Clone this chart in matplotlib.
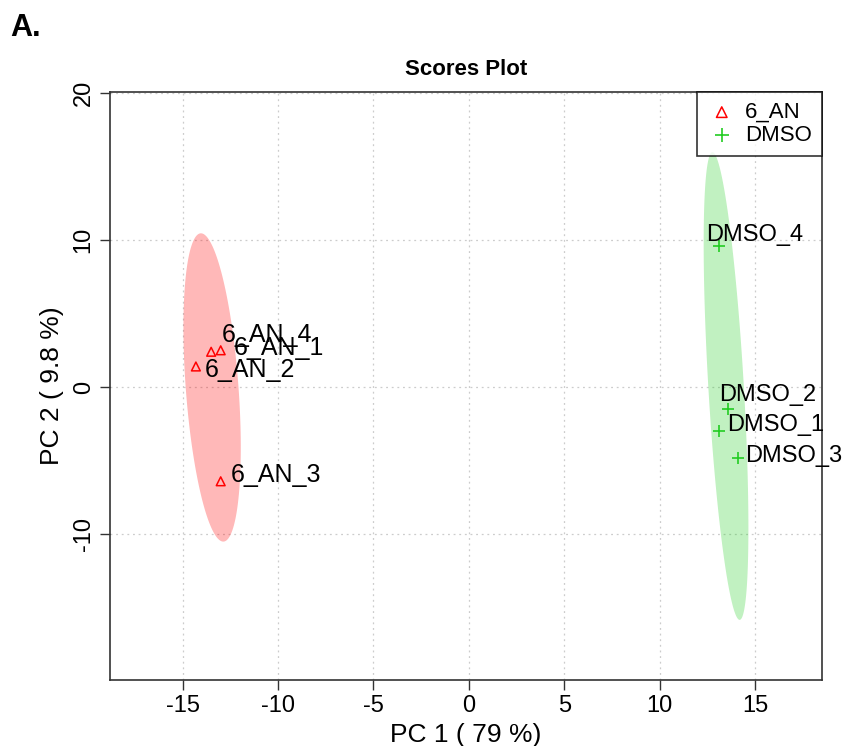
import matplotlib
matplotlib.use("Agg")
import matplotlib.pyplot as plt
import numpy as np

plt.rcParams['font.family'] = ['Liberation Sans', 'DejaVu Sans']

# scores
groups = ["6_AN", "DMSO"]
an_names = ["6_AN_1", "6_AN_2", "6_AN_3", "6_AN_4"]
an_pc1 = [-13.0, -14.3, -13.0, -13.5]
an_pc2 = [2.5, 1.4, -6.4, 2.4]
dmso_names = ["DMSO_1", "DMSO_2", "DMSO_3", "DMSO_4"]
dmso_pc1 = [13.1, 13.6, 14.1, 13.1]
dmso_pc2 = [-3.0, -1.5, -4.8, 9.6]

xticks = [-15, -10, -5, 0, 5, 10, 15]
yticks = [-10, 0, 10, 20]

# label offsets (pixels) from each point
an_off = [(13, 2), (9, -4), (10, 6), (11, 17)]
dmso_off = [(8, 6), (-9, 14), (7, 2), (-13, 11)]


def conf_ellipse(x, y, level=0.95, n=200):
    x = np.asarray(x); y = np.asarray(y)
    cov = np.cov(x, y)
    t = np.sqrt(-2 * np.log(1 - level))
    vals, vecs = np.linalg.eigh(cov)
    a = np.linspace(0, 2 * np.pi, n)
    circ = np.vstack([np.cos(a), np.sin(a)])
    pts = vecs @ (np.sqrt(vals)[:, None] * circ) * t
    return x.mean() + pts[0], y.mean() + pts[1]


fig = plt.figure(figsize=(8.5, 7.46), dpi=100)
ax = fig.add_axes([0.1294, 0.0885, 0.8376, 0.7882])

ex, ey = conf_ellipse(an_pc1, an_pc2)
ax.fill(ex, ey, color=(1.0, 0.0, 0.0), alpha=0.28, lw=0, zorder=1)
ex, ey = conf_ellipse(dmso_pc1, dmso_pc2)
ax.fill(ex, ey, color=(0.1, 0.8, 0.1), alpha=0.27, lw=0, zorder=1)

for v in xticks:
    ax.axvline(v, color='#cccccc', ls=(0, (1.5, 3)), lw=0.9, zorder=0)
for v in yticks:
    ax.axhline(v, color='#cccccc', ls=(0, (1.5, 3)), lw=0.9, zorder=0)

ax.scatter(an_pc1, an_pc2, marker='^', facecolors='none', edgecolors='#ff0000',
           s=40, linewidths=1.1, zorder=3, label=groups[0])
ax.scatter(dmso_pc1, dmso_pc2, marker='+', color='#22cc22', s=75,
           linewidths=1.2, zorder=3, label=groups[1])

for nm, x, y, (dx, dy) in zip(an_names, an_pc1, an_pc2, an_off):
    ax.annotate(nm, (x, y), xytext=(dx, dy), textcoords='offset pixels',
                ha='left', va='center', fontsize=18, color='black', zorder=4)
for nm, x, y, (dx, dy) in zip(dmso_names, dmso_pc1, dmso_pc2, dmso_off):
    ax.annotate(nm, (x, y), xytext=(dx, dy), textcoords='offset pixels',
                ha='left', va='center', fontsize=17, color='black', zorder=4)

ax.set_xlim(-18.8, 18.5)
ax.set_ylim(-19.9, 20.05)
ax.set_xticks(xticks)
ax.set_yticks(yticks)
ax.set_xticklabels([str(v) for v in xticks], fontsize=17)
ax.set_yticklabels([str(v) for v in yticks], fontsize=17, rotation=90, va='center')
ax.tick_params(direction='out', length=7, width=1, color='#333333', pad=4)
for s in ax.spines.values():
    s.set_color('#333333')
    s.set_linewidth(1.2)

ax.set_xlabel('PC 1 ( 79 %)', fontsize=19, labelpad=4)
ax.set_ylabel('PC 2 ( 9.8 %)', fontsize=19, labelpad=6)
ax.set_title('Scores Plot', fontsize=16, fontweight='bold', pad=12)

leg = ax.legend(loc='upper right', fontsize=16, frameon=True, fancybox=False,
                borderaxespad=0, handletextpad=0.4, borderpad=0.45,
                labelspacing=0.1, handlelength=1.3, markerscale=1.2)
leg.get_frame().set_edgecolor('black')
leg.get_frame().set_linewidth(1.2)

fig.text(0.012, 0.962, 'A.', fontsize=22, fontweight='bold', va='center', ha='left')

fig.savefig('out.png', dpi=100)
